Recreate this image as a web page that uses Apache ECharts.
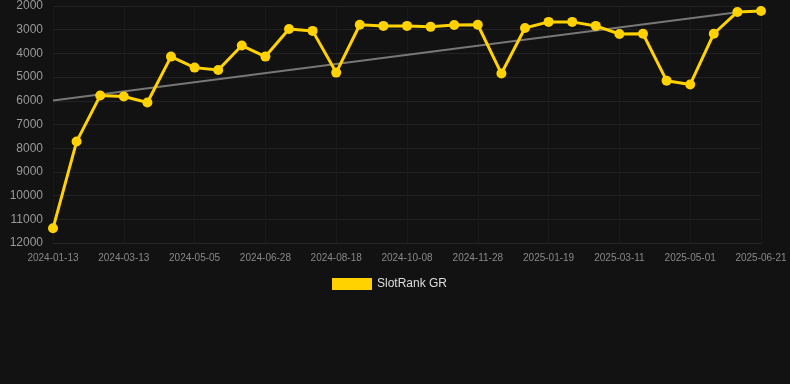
<!DOCTYPE html>
<head>
    <meta charset="utf-8">
    <title>SlotRank GR</title>
    <style>
        html, body {
            width: 100%;
            height: 100%;
            margin: 0;
            background: #121212;
        }
        #main {
            width: 790px;
            height: 384px;
        }
    </style>
</head>
<body>
<div id="main"></div>
<script src="https://cdn.jsdelivr.net/npm/echarts@6/dist/echarts.min.js"></script>
<script type="text/javascript">
  var dates = [
    '2024-01-13', '2024-02-02', '2024-02-22', '2024-03-13', '2024-03-31', '2024-04-18',
    '2024-05-05', '2024-05-23', '2024-06-10', '2024-06-28', '2024-07-15', '2024-08-01',
    '2024-08-18', '2024-09-04', '2024-09-21', '2024-10-08', '2024-10-25', '2024-11-11',
    '2024-11-28', '2024-12-15', '2025-01-02', '2025-01-19', '2025-02-05', '2025-02-22',
    '2025-03-11', '2025-03-28', '2025-04-14', '2025-05-01', '2025-05-18', '2025-06-04',
    '2025-06-21'
  ];
  var ranks = [
    11380, 7720, 5780, 5820, 6070, 4135, 4600, 4700, 3670, 4135, 2970,
    3050, 4810, 2790, 2840, 2840, 2880, 2800, 2790, 4850, 2930,
    2670, 2670, 2840, 3180, 3170, 5150, 5310, 3170, 2250, 2210
  ];
  // trend line endpoints [category index, value]
  var trend = [[0, 5990], [29, 2260]];

  var myChart = echarts.init(document.getElementById('main'));

  var option = {
    backgroundColor: '#121212',
    animation: false,
    grid: {
      left: 53,
      right: 29,
      top: 6,
      bottom: 141
    },
    legend: {
      top: 273,
      left: 327,
      itemWidth: 40,
      itemHeight: 12,
      textStyle: {color: '#dddddd', fontSize: 12, fontFamily: 'Liberation Sans'},
      data: [{name: 'SlotRank GR', icon: 'rect'}]
    },
    xAxis: {
      type: 'category',
      boundaryGap: false,
      data: dates,
      axisLine: {show: true, lineStyle: {color: '#262626'}},
      axisTick: {show: false},
      axisLabel: {
        interval: 2,
        color: '#888888',
        fontSize: 10,
        fontFamily: 'Liberation Sans',
        margin: 10
      },
      splitLine: {show: true, interval: 2, lineStyle: {color: '#1a1a1a'}}
    },
    yAxis: {
      type: 'value',
      inverse: true,
      min: 2000,
      max: 12000,
      interval: 1000,
      axisLine: {show: false},
      axisTick: {show: false},
      axisLabel: {
        color: '#999999',
        fontSize: 12,
        fontFamily: 'Liberation Sans',
        margin: 10,
        formatter: function (v) { return String(v); }
      },
      splitLine: {lineStyle: {color: '#222222'}}
    },
    series: [
      {
        name: 'SlotRank GR',
        type: 'line',
        data: ranks,
        color: '#FFD200',
        symbol: 'circle',
        symbolSize: 10,
        lineStyle: {width: 3, color: '#FFD200'},
        itemStyle: {color: '#FFD200'},
        z: 3
      },
      {
        name: 'trend',
        type: 'line',
        data: trend,
        symbol: 'none',
        lineStyle: {width: 2, color: '#777777'},
        z: 2
      }
    ]
  };
  myChart.setOption(option);
</script>
</body>
